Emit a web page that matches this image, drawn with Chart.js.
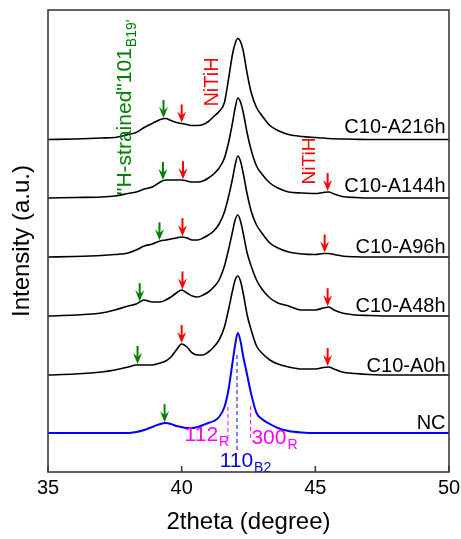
<!DOCTYPE html>
<html><head><meta charset="utf-8">
<script src="https://cdn.jsdelivr.net/npm/chart.js@4/dist/chart.umd.min.js"></script>
<style>html,body{margin:0;padding:0;background:#fff}#wrap{width:461px;height:539px;position:relative}</style>
</head><body><div id="wrap"><canvas id="c" width="461" height="539"></canvas></div>
<script>
// 2theta sampling grid (degree)
const twoTheta = [35,36,37,37.5,38,38.3,38.6,38.9,39.2,39.4,39.6,39.8,40.0,40.2,40.4,40.6,40.8,41.0,41.2,41.4,41.6,41.75,41.9,42.0,42.1,42.2,42.3,42.45,42.6,42.8,43.0,43.3,43.6,44.0,44.5,45.0,45.3,45.5,45.7,46.0,46.5,47,48,49,50];
// intensities (a.u., before vertical offset)
const NC      = [0,0,0,0,0,0.1,0.3,0.6,0.9,1.0,0.9,0.7,0.6,0.5,0.5,0.6,0.8,1.0,1.2,1.6,2.6,4.3,7.0,8.8,10.0,9.2,7.7,5.8,3.9,2.0,1.4,0.9,0.5,0.2,0.05,0,0,0,0,0,0,0,0,0,0];
const A0h     = [0,0.1,0.3,0.5,0.8,1.0,1.0,1.0,1.2,1.4,1.8,2.5,3.1,2.8,2.2,2.0,2.0,2.3,2.8,3.5,4.8,6.5,8.4,9.5,9.9,9.4,8.2,6.0,4.5,2.9,2.2,1.5,1.1,0.8,0.6,0.6,0.75,0.8,0.6,0.3,0.15,0.05,0,0,0];
const A48h    = [0,0.1,0.3,0.6,1.0,1.2,1.6,1.4,1.4,1.6,1.9,2.3,2.6,2.3,2.0,1.9,2.1,2.4,2.9,3.6,5.0,6.6,8.4,9.6,10.1,9.5,8.3,6.3,5.0,3.6,2.7,1.8,1.3,1.0,0.6,0.6,0.8,0.9,0.6,0.3,0.1,0.05,0,0,0];
const A96h    = [0,0.05,0.15,0.25,0.4,0.7,1.1,1.3,1.6,1.7,1.8,1.9,2.0,1.9,1.7,1.7,1.9,2.2,2.6,3.3,4.5,6.0,7.8,9.2,10.1,9.6,8.4,6.3,4.6,3.2,2.4,1.4,0.9,0.5,0.3,0.25,0.35,0.35,0.25,0.1,0.02,0,0,0,0];
const A144h   = [0,0.05,0.1,0.2,0.45,0.6,0.9,1.1,1.6,1.8,1.8,1.8,1.8,1.7,1.6,1.6,1.7,2.0,2.4,3.0,4.0,5.5,7.5,9.0,10.0,9.6,8.6,6.5,4.8,3.2,2.4,1.5,1.0,0.6,0.5,0.45,0.55,0.6,0.4,0.15,0.05,0,0,0,0];
const A216h   = [0,0.05,0.15,0.2,0.5,0.7,1.2,1.6,2.0,2.1,1.9,1.7,1.6,1.5,1.4,1.4,1.5,1.8,2.3,2.8,3.7,6.0,8.5,9.6,10.1,9.8,8.9,6.6,4.7,3.2,2.4,1.4,0.9,0.5,0.3,0.2,0.15,0.1,0.07,0.05,0.02,0,0,0,0];
const seriesNames = ['NC','C10-A0h','C10-A48h','C10-A96h','C10-A144h','C10-A216h'];
const seriesValues = [NC, A0h, A48h, A96h, A144h, A216h];
const offsets = [3.9, 9.7, 15.6, 21.5, 27.4, 33.25];
const seriesColors = ['#0000ff','#000000','#000000','#000000','#000000','#000000'];
const xTicks = [35, 40, 45, 50];
// curve label positions [2theta, y]
const labelPos = [[49.87,4.9],[49.87,10.6],[49.87,16.6],[49.87,22.5],[49.87,28.6],[49.87,34.5]];
// arrows: [2theta, series index]
const greenArrows = [[39.36,0],[38.35,1],[38.43,2],[39.17,3],[39.3,4],[39.32,5]];
const redArrows = [[40.0,1],[45.46,1],[40.03,2],[45.46,2],[40.03,3],[45.35,3],[40.05,4],[45.46,4],[40.0,5]];
// dashed reference lines: [2theta, yTop, yBottom, colour]
const refLines = [[41.73,6.5,3.2,'#ff00ff'],[42.58,6.6,3.2,'#ff00ff'],[42.07,11.7,2.2,'#0000ff']];

Chart.defaults.font.family = '"Liberation Sans", Arial, sans-serif';
Chart.defaults.color = '#000';

const datasets = seriesValues.map((vals, i) => ({
  label: seriesNames[i],
  data: twoTheta.map((t, k) => ({x: t, y: vals[k] + offsets[i]})),
  borderColor: seriesColors[i],
  borderWidth: i === 0 ? 2 : 1.6,
  pointRadius: 0,
  fill: false,
  cubicInterpolationMode: 'monotone'
}));

function curvePx(chart, idx, t) {
  const xs = chart.scales.x, ys = chart.scales.y;
  const v = seriesValues[idx];
  let k = 0;
  while (k < twoTheta.length - 2 && twoTheta[k + 1] < t) k++;
  const f = (t - twoTheta[k]) / (twoTheta[k + 1] - twoTheta[k]);
  const val = v[k] + (v[k + 1] - v[k]) * f + offsets[idx];
  return {x: xs.getPixelForValue(t), y: ys.getPixelForValue(val)};
}

function arrow(ctx, x, tipY, color) {
  ctx.save();
  ctx.strokeStyle = color; ctx.fillStyle = color; ctx.lineWidth = 2;
  ctx.beginPath(); ctx.moveTo(x, tipY - 18); ctx.lineTo(x, tipY - 6); ctx.stroke();
  ctx.beginPath();
  ctx.moveTo(x, tipY);
  ctx.lineTo(x - 4.5, tipY - 11);
  ctx.lineTo(x, tipY - 7);
  ctx.lineTo(x + 4.5, tipY - 11);
  ctx.closePath(); ctx.fill();
  ctx.restore();
}

function subText(ctx, x, y, main, sub, size, subSize, color, rotate, align) {
  ctx.save();
  ctx.fillStyle = color;
  ctx.translate(x, y);
  if (rotate) ctx.rotate(-Math.PI / 2);
  ctx.textBaseline = 'alphabetic';
  ctx.font = size + 'px "Liberation Sans", Arial, sans-serif';
  const w = ctx.measureText(main).width;
  ctx.font = subSize + 'px "Liberation Sans", Arial, sans-serif';
  const ws = sub ? ctx.measureText(sub).width : 0;
  let x0 = 0;
  if (align === 'center') x0 = -(w + ws) / 2;
  ctx.textAlign = 'left';
  ctx.font = size + 'px "Liberation Sans", Arial, sans-serif';
  ctx.fillText(main, x0, 0);
  if (sub) {
    ctx.font = subSize + 'px "Liberation Sans", Arial, sans-serif';
    ctx.fillText(sub, x0 + w + 1, 5);
  }
  ctx.restore();
}

const annot = {
  id: 'annot',
  afterDatasetsDraw(chart) {
    const ctx = chart.ctx, xs = chart.scales.x, ys = chart.scales.y, a = chart.chartArea;
    refLines.forEach(([t, y1, y2, c]) => {
      ctx.save(); ctx.strokeStyle = c; ctx.lineWidth = 1; ctx.setLineDash([4, 3]);
      const px = xs.getPixelForValue(t);
      ctx.beginPath(); ctx.moveTo(px, ys.getPixelForValue(y1)); ctx.lineTo(px, ys.getPixelForValue(y2)); ctx.stroke();
      ctx.restore();
    });
    greenArrows.forEach(([t, i]) => { const p = curvePx(chart, i, t); arrow(ctx, p.x, p.y - 1, '#008000'); });
    redArrows.forEach(([t, i]) => { const p = curvePx(chart, i, t); arrow(ctx, p.x, p.y - 1, '#ff0000'); });
    ctx.save(); ctx.fillStyle = '#000'; ctx.font = '20px "Liberation Sans", Arial, sans-serif';
    ctx.textAlign = 'right'; ctx.textBaseline = 'middle';
    labelPos.forEach(([t, y], i) => ctx.fillText(seriesNames[i], xs.getPixelForValue(t), ys.getPixelForValue(y)));
    ctx.restore();
    subText(ctx, xs.getPixelForValue(38.12), ys.getPixelForValue(27.7), '"H-strained"101', "B19'", 21, 14, '#008000', true, 'left');
    subText(ctx, xs.getPixelForValue(41.35), ys.getPixelForValue(39.0), 'NiTiH', '', 20, 14, '#ff0000', true, 'center');
    subText(ctx, xs.getPixelForValue(44.98), ys.getPixelForValue(31.1), 'NiTiH', '', 19, 14, '#ff0000', true, 'center');
    subText(ctx, xs.getPixelForValue(40.11), ys.getPixelForValue(3.1), '112', 'R', 21, 14, '#ff00ff', false, 'left');
    subText(ctx, xs.getPixelForValue(42.61), ys.getPixelForValue(2.8), '300', 'R', 21, 14, '#ff00ff', false, 'left');
    subText(ctx, xs.getPixelForValue(41.42), ys.getPixelForValue(0.5), '110', 'B2', 21, 14, '#0000ff', false, 'left');
    ctx.save(); ctx.strokeStyle = '#3c3c3c'; ctx.lineWidth = 1.6;
    ctx.strokeRect(a.left, a.top, a.right - a.left, a.bottom - a.top);
    ctx.beginPath();
    xTicks.forEach(v => { const px = xs.getPixelForValue(v); ctx.moveTo(px, a.bottom); ctx.lineTo(px, a.bottom - 6); });
    ctx.stroke(); ctx.restore();
  }
};

new Chart(document.getElementById('c'), {
  type: 'line',
  data: { datasets },
  options: {
    responsive: false, animation: false, devicePixelRatio: 1,
    layout: { padding: { left: 5.6, right: 12, top: 10, bottom: 0 } },
    plugins: { legend: { display: false }, tooltip: { enabled: false } },
    scales: {
      x: {
        type: 'linear', min: 35, max: 50,
        afterBuildTicks: s => { s.ticks = xTicks.map(v => ({ value: v })); },
        afterFit: s => { s.height = 67; s.paddingLeft = 0; s.paddingRight = 0; },
        ticks: { font: { size: 20 }, color: '#000', padding: 4, maxRotation: 0 },
        grid: { display: false, drawTicks: false },
        border: { display: false },
        title: { display: true, text: '2theta (degree)', font: { size: 24 }, color: '#000', padding: { top: 4, bottom: 2 } }
      },
      y: {
        min: 0, max: 46.2,
        ticks: { display: false },
        grid: { display: false, drawTicks: false },
        border: { display: false },
        title: { display: true, text: 'Intensity (a.u.)', font: { size: 24 }, color: '#000', padding: { top: 2, bottom: 11.6 } }
      }
    }
  },
  plugins: [annot]
});
</script></body></html>
